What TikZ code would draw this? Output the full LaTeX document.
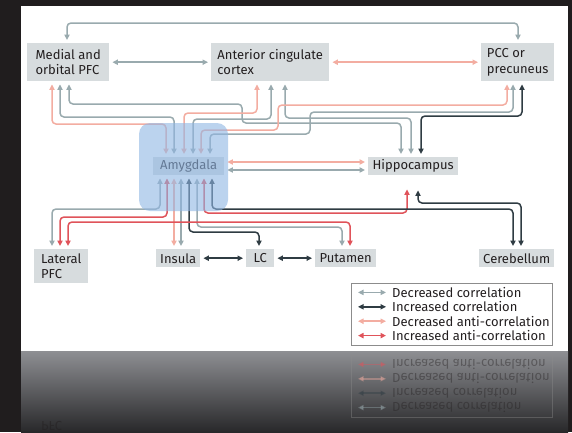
\documentclass[tikz,border=0pt]{standalone}
\usepackage{fontspec}
\setmainfont{Fira Sans}
\usetikzlibrary{arrows.meta}
\definecolor{PanelInk}{HTML}{231F20}
\definecolor{PanelDark}{HTML}{201D1E}
\definecolor{BoxGray}{HTML}{D7DCDE}
\definecolor{DecrCorr}{HTML}{99AAAE}
\definecolor{IncrCorr}{HTML}{2F3C43}
\definecolor{DecrAnti}{HTML}{F3ADA1}
\definecolor{IncrAnti}{HTML}{E0535A}
\definecolor{AmygBlue}{HTML}{8FB6E4}
\definecolor{LegendFrame}{HTML}{8C8C8C}
\definecolor{ReflTop}{HTML}{8E8F93}
\definecolor{ReflBottom}{HTML}{28282A}
\tikzset{
  every node/.style={font=\fontsize{13}{15.5}\selectfont, text=PanelInk},
  region/.style={fill=BoxGray, inner sep=0pt, align=left, anchor=north west},
  link/.style={line width=1.5pt, rounded corners=4pt, shorten <=3pt, shorten >=3pt,
    {Triangle[length=5.5pt,width=5.2pt]}-{Triangle[length=5.5pt,width=5.2pt]}},
  decr/.style={link, draw=DecrCorr},
  incr/.style={link, draw=IncrCorr},
  decranti/.style={link, draw=DecrAnti},
  incranti/.style={link, draw=IncrAnti},
}
\newcommand\drawlegend{%
  \draw[LegendFrame, line width=0.8pt] (351,283) rectangle (552,345);
  \foreach \sty/\lbl [count=\i] in {decr/Decreased correlation, incr/Increased correlation,
      decranti/Decreased anti-correlation, incranti/Increased anti-correlation}{
    \node[anchor=west, inner sep=0pt] (key\i) at (392, 278+14.4*\i) {\lbl};
    \draw[\sty] ([xshift=-37pt]key\i.west) -- ([xshift=-3pt]key\i.west);
  }%
}

\begin{document}
\begin{tikzpicture}[x=1pt,y=-1pt]
  \useasboundingbox (0,0) rectangle (572,432);
  % Screen, panel and its reflection
  \fill[PanelDark] (0,0) rectangle (572,432);
  \fill[white] (21,6) rectangle (568,351);
  \shade[top color=ReflTop, bottom color=ReflBottom] (21,351) rectangle (568,432);

  % Regions
  \node[region, minimum width=82pt, minimum height=38pt] (mpfc) at (27,43) {Medial and\\orbital PFC};
  \node[region, minimum width=118pt, minimum height=38pt] (acc) at (211,43) {Anterior cingulate\\cortex};
  \node[region, minimum width=73pt, minimum height=38pt] (pcc) at (481,43) {PCC or\\precuneus};
  \node[region, minimum width=71pt, minimum height=18pt] (amyg) at (153,157) {Amygdala};
  \node[region, minimum width=90pt, minimum height=18pt] (hippo) at (368,157) {Hippocampus};
  \node[region, minimum width=54pt, minimum height=34pt] (lpfc) at (34,249) {Lateral\\PFC};
  \node[region, minimum width=44pt, minimum height=18pt] (insula) at (156,249) {Insula};
  \node[region, minimum width=28pt, minimum height=18pt] (lc) at (246,249) {LC};
  \node[region, minimum width=61pt, minimum height=18pt] (putamen) at (315,249) {Putamen};
  \node[region, minimum width=75pt, minimum height=18pt] (cereb) at (479,249) {Cerebellum};

  % Top row
  \draw[decr] (mpfc.north -| 67,0) |- (518,23) -- (pcc.north -| 518,0);
  \draw[decr] (mpfc) -- (acc);
  \draw[decranti] (acc) -- (pcc);
  % From medial and orbital PFC
  \draw[decranti] (mpfc.south -| 52,0) |- (166,124) -- (amyg.north -| 166,0);
  \draw[decr] (mpfc.south -| 60,0) |- (174,117) -- (amyg.north -| 174,0);
  \draw[decr] (mpfc.south -| 69,0) |- (242,104) |- (401,123) -- (hippo.north -| 401,0);
  % From anterior cingulate cortex
  \draw[decranti] (acc.south -| 257,0) |- (184,113) -- (amyg.north -| 184,0);
  \draw[decr] (acc.south -| 271,0) |- (193,119) -- (amyg.north -| 193,0);
  \draw[decr] (acc.south -| 285,0) |- (411,118) -- (hippo.north -| 411,0);
  % From PCC or precuneus
  \draw[decranti] (pcc.south -| 507,0) |- (278,105) |- (201,130) -- (amyg.north -| 201,0);
  \draw[decr] (pcc.south -| 513,0) |- (310,112) |- (210,134) -- (amyg.north -| 210,0);
  \draw[incr] (pcc.south -| 522,0) |- (421,116) -- (hippo.north -| 421,0);
  % Amygdala and hippocampus
  \draw[decranti] (amyg.east |- 0,162) -- (hippo.west |- 0,162);
  \draw[decr] (amyg.east |- 0,170) -- (hippo.west |- 0,170);
  % Below the amygdala
  \draw[decr] (amyg.south -| 160,0) |- (52,209) -- (lpfc.north -| 52,0);
  \draw[incranti] (amyg.south -| 167,0) |- (60,217) -- (lpfc.north -| 60,0);
  \draw[decranti] (amyg.south -| 174,0) -- (insula.north -| 174,0);
  \draw[decr] (amyg.south -| 181,0) -- (insula.north -| 181,0);
  \draw[incr] (amyg.south -| 189,0) |- (259,232) -- (lc.north -| 259,0);
  \draw[decr] (amyg.south -| 197,0) |- (342,227) -- (putamen.north -| 342,0);
  \draw[incranti, shorten >=14pt] (amyg.south -| 204,0) |- (407,213) -- (hippo.south -| 407,0);
  \draw[incr] (amyg.south -| 212,0) |- (513,209) -- (cereb.north -| 513,0);
  \draw[incr, shorten <=15pt] (hippo.south -| 418,0) |- (521,203) -- (cereb.north -| 521,0);
  \draw[incranti] (lpfc.north -| 68,0) |- (350,222) -- (putamen.north -| 350,0);
  % Bottom row
  \draw[incr] (insula) -- (lc);
  \draw[incr] (lc) -- (putamen);

  % Highlight over the amygdala
  \fill[AmygBlue, opacity=0.6, rounded corners=11pt] (139,123) rectangle (228,211);

  % Legend
  \drawlegend

  % Mirror image below the panel
  \begin{scope}
    \clip (21,351) rectangle (568,432);
    \begin{scope}[yshift=-700pt, yscale=-1, transform shape, opacity=0.4]
      \drawlegend
      \node[region, fill=none, minimum width=54pt, minimum height=34pt, opacity=0.5] (lpfcmirror) at (34,249) {Lateral\\PFC};
    \end{scope}
  \end{scope}
\end{tikzpicture}
\end{document}
